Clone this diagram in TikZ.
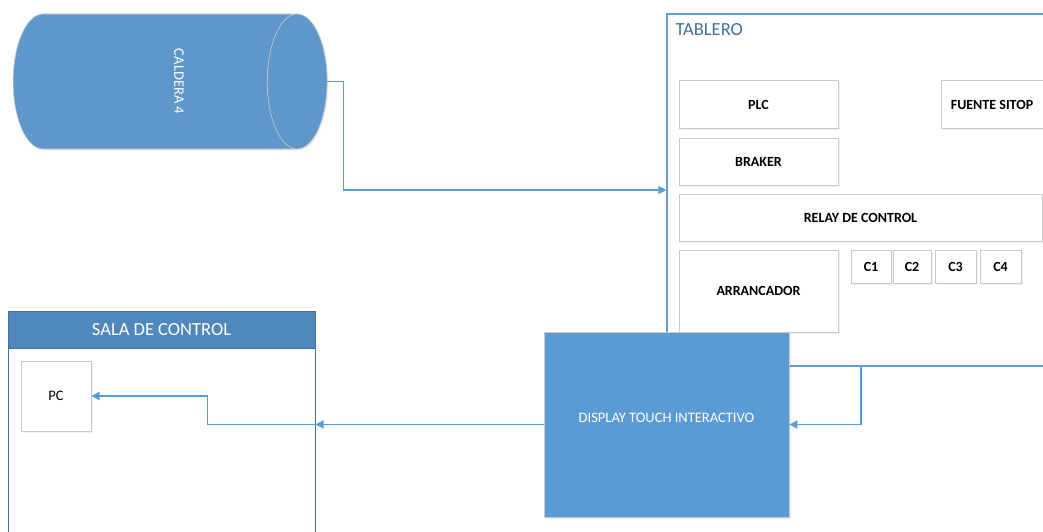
\documentclass[tikz,border=0pt]{standalone}
\usepackage{fontspec}
\setmainfont{Carlito}
\usetikzlibrary{
  arrows.meta,
  positioning,
  shapes.geometric,
  shadows
}
\definecolor{fillblue}{HTML}{5B9BD5}
\definecolor{headblue}{HTML}{5087BD}
\definecolor{edgeblue}{HTML}{41719C}
\definecolor{panelblue}{HTML}{6A9AD0}
\definecolor{boxgray}{HTML}{C9C9C9}
\tikzset{
  softshadow/.style={
    drop shadow={opacity=0.12, shadow xshift=1.5pt, shadow yshift=-1.5pt}
  },
  part/.style={
    draw=boxgray,
    fill=white,
    line width=1pt,
    minimum width=159pt,
    minimum height=47pt,
    inner sep=0pt,
    align=center,
    softshadow,
    font=\fontsize{14}{16}\selectfont\bfseries
  },
  slot/.style={part, minimum width=40pt, minimum height=33pt},
  frame/.style={draw=edgeblue, line width=1pt, inner sep=0pt},
  bigtitle/.style={font=\fontsize{18.5}{21}\selectfont, inner sep=0pt},
  conn/.style={-{Triangle[length=8pt, width=8pt]}, draw=fillblue, line width=1.3pt}
}

\begin{document}
\begin{tikzpicture}[x=1pt, y=-1pt]
  \clip (0,0) rectangle (1043,532);

  \node[cylinder, aspect=0.92, minimum width=135pt, minimum height=314pt,
    draw=boxgray, line width=0.6pt, cylinder uses custom fill,
    cylinder body fill=fillblue, cylinder end fill=fillblue, softshadow,
    text=white, font=\fontsize{14.5}{17}\selectfont, inner sep=0pt]
    (caldera) at (155,81.5) {\hspace*{48pt}\rotatebox{-90}{CALDERA 4}};

  % tablero
  \node[frame, draw=panelblue, line width=1.2pt, minimum width=388pt,
    minimum height=352pt] (tablero) at (861,190) {};
  \node[bigtitle, text=edgeblue, below right=10pt and 9pt of tablero.north west]
    (tabtitle) {TABLERO};

  \node[part] (plc) at (758.5,104.5) {PLC};
  \node[part, below=9pt of plc] (braker) {BRAKER};
  \node[part, minimum width=363pt, below right=8pt and 0pt of braker.south west]
    (relay) {RELAY DE CONTROL};
  \node[part, minimum height=82pt, below right=8pt and 0pt of relay.south west]
    (arrancador) {ARRANCADOR};
  \node[part, minimum width=102pt, right=102pt of plc] (sitop) {FUENTE SITOP};

  \node[slot, below right=0pt and 12pt of arrancador.north east] (c1) {C1};
  \node[slot, minimum width=38pt, right=1pt of c1] (c2) {C2};
  \node[slot, minimum width=41pt, right=3pt of c2] (c3) {C3};
  \node[slot, minimum width=41pt, right=3pt of c3] (c4) {C4};

  \node[draw=boxgray, line width=0.8pt, fill=fillblue, softshadow,
    minimum width=245pt, minimum height=185pt, text=white,
    font=\fontsize{14.5}{17}\selectfont] (display) at (666.5,424.5)
    {\raisebox{14pt}{DISPLAY TOUCH INTERACTIVO}};

  % sala de control
  \node[frame, minimum width=307pt, minimum height=249pt] (sala)
    at (161.5,435.5) {};
  \node[frame, bigtitle, fill=headblue, text=white, minimum width=307pt,
    minimum height=37pt, anchor=north] (salahead) at (sala.north)
    {SALA DE CONTROL};
  \node[part, font=\fontsize{14.5}{16}\selectfont, minimum width=70pt,
    minimum height=70pt, below right=12pt and 13pt of salahead.south west]
    (pc) {PC};

  \coordinate (salaport) at (display.west -| sala.east);

  \draw[conn] (caldera.top) -- ++(16,0) |- (tablero.west);
  \draw[conn] (tablero.south) |- (display.east);
  \draw[conn] (display.west) -- (salaport);
  \draw[conn] (salaport) -- ++(-108,0) |- (pc.east);
\end{tikzpicture}
\end{document}
